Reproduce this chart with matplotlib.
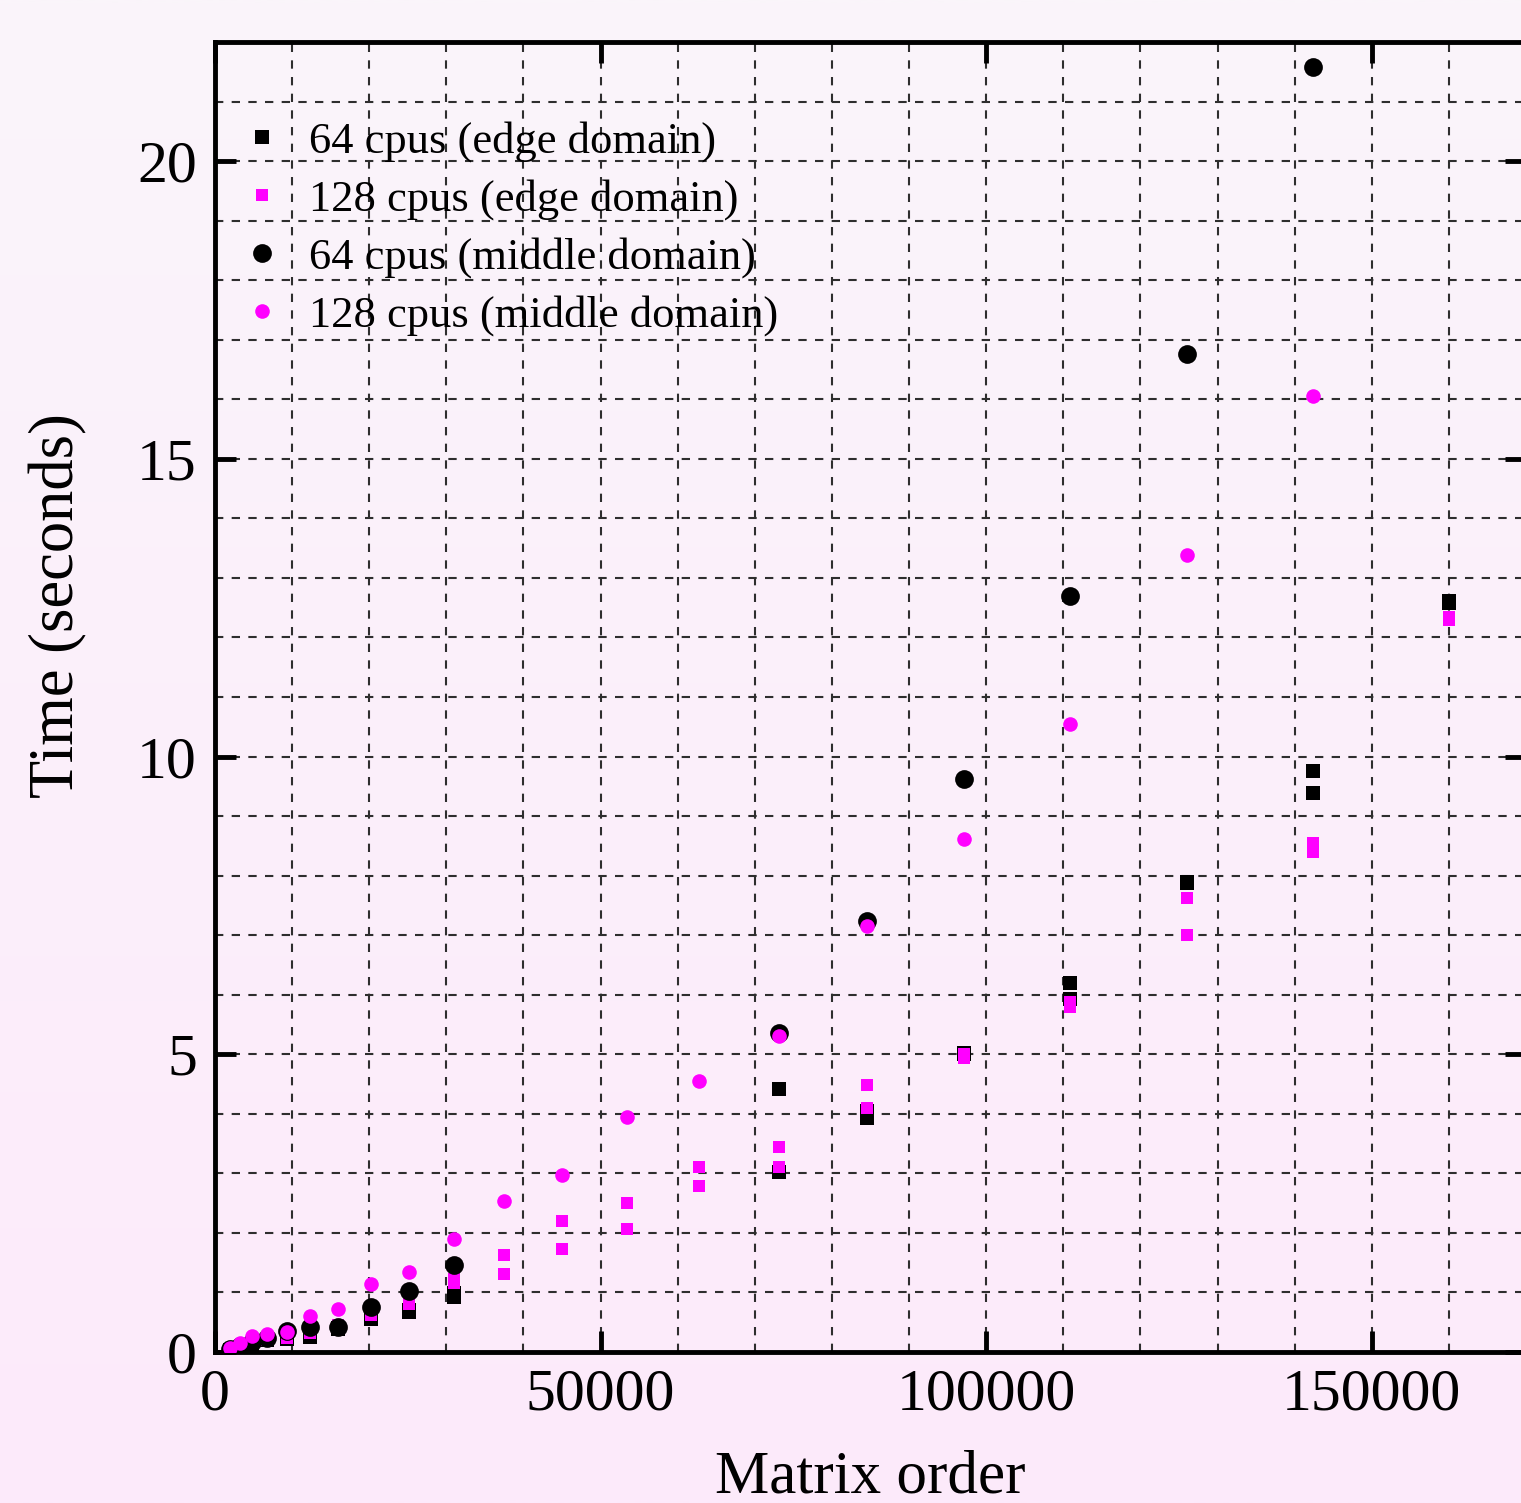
import matplotlib
matplotlib.use('Agg')
import matplotlib.pyplot as plt
import numpy as np
from matplotlib.ticker import MultipleLocator

plt.rcParams['font.family'] = ['Liberation Serif', 'DejaVu Serif']

# matrix orders (x positions shared by all series)
orders = [1950, 3240, 4800, 6750, 9340, 12320, 15950, 20230, 25160, 31000, 37480,
          45000, 53440, 62780, 73150, 84560, 97150, 110900, 126070, 142400, 160050]

nan = np.nan
# edge domain: two measurements per matrix order
edge64_a = [0.03, 0.06, 0.12, 0.20, 0.22, 0.25, 0.38, 0.58, 0.67, 0.92, nan,
            nan, nan, nan, 4.42, 3.93, 5.02, 6.20, 7.90, 9.76, 12.61]
edge64_b = [0.03, 0.06, 0.12, 0.20, 0.22, 0.28, 0.40, 0.55, 0.70, 0.99, nan,
            nan, nan, nan, 3.03, 4.05, 5.00, 5.92, 7.88, 9.39, 12.58]
edge128_a = [0.03, 0.07, 0.13, 0.20, 0.23, 0.32, 0.42, 0.62, 0.82, 1.23, 1.63,
             2.20, 2.50, 3.11, 3.45, 4.49, 5.01, 5.88, 7.63, 8.55, 12.34]
edge128_b = [0.03, 0.07, 0.13, 0.20, 0.26, 0.35, 0.45, 0.66, 0.80, 1.16, 1.31,
             1.73, 2.07, 2.79, 3.11, 4.10, 4.94, 5.80, 7.01, 8.40, 12.30]
# middle domain
mid64 = [0.05, 0.10, 0.17, 0.23, 0.35, 0.42, 0.42, 0.76, 1.03, 1.46, nan,
         nan, nan, nan, 5.36, 7.23, 9.63, 12.69, 16.76, 21.58, nan]
mid128 = [0.06, 0.15, 0.27, 0.30, 0.34, 0.61, 0.72, 1.14, 1.34, 1.90, 2.54,
          2.97, 3.95, 4.55, 5.31, 7.16, 8.62, 10.55, 13.38, 16.05, nan]

labels = ['64 cpus (edge domain)', '128 cpus (edge domain)',
          '64 cpus (middle domain)', '128 cpus (middle domain)']

fig = plt.figure(figsize=(15.21, 15.03), dpi=100)

# soft pink vertical gradient behind everything
bg = fig.add_axes([0, 0, 1, 1], zorder=-10)
top = np.array([250, 245, 250]) / 255
bot = np.array([253, 234, 251]) / 255
t = np.linspace(0, 1, 256)[:, None]
grad = (top * (1 - t) + bot * t)[:, None, :]
bg.imshow(grad, aspect='auto', extent=[0, 1, 0, 1], interpolation='bilinear')
bg.axis('off')

ax = fig.add_axes([215 / 1521, 151 / 1503, 1311 / 1521, 1310 / 1503])
ax.set_facecolor('none')

x = np.array(orders)
ax.plot(np.concatenate([x, x]), np.concatenate([edge64_a, edge64_b]), 's', color='black',
        ms=10.5, mew=0, label=labels[0], zorder=3)
ax.plot(np.concatenate([x, x]), np.concatenate([edge128_a, edge128_b]), 's', color='#ff00ff',
        ms=9, mew=0, label=labels[1], zorder=4)
ax.plot(x, mid64, 'o', color='black', ms=13.5, mew=0, label=labels[2], zorder=5)
ax.plot(x, mid128, 'o', color='#ff00ff', ms=10.5, mew=0, label=labels[3], zorder=6)

ax.set_xlim(0, 170000)
ax.set_ylim(0, 22)
ax.xaxis.set_major_locator(MultipleLocator(50000))
ax.xaxis.set_minor_locator(MultipleLocator(10000))
ax.yaxis.set_major_locator(MultipleLocator(5))
ax.yaxis.set_minor_locator(MultipleLocator(1))

ax.grid(which='both', color='#2e2e2e', linestyle=(0, (4, 4)), linewidth=1.5, zorder=1)
ax.set_axisbelow(True)

for s in ax.spines.values():
    s.set_linewidth(3.5)
ax.tick_params(which='major', direction='in', length=15, width=3.5, top=True, right=True,
               labelsize=43)
ax.tick_params(axis='x', which='major', pad=12)
ax.tick_params(axis='y', which='major', pad=13)
ax.tick_params(which='minor', length=0)

ax.set_xlabel('Matrix order', fontsize=44, labelpad=20)
ax.set_ylabel('Time (seconds)', fontsize=45)
ax.yaxis.set_label_coords(-0.097, 0.57)

ax.legend(loc='upper left', bbox_to_anchor=(0.019, 0.9396), frameon=False, fontsize=32,
          handlelength=1.0, handletextpad=0.55, labelspacing=0.38, borderpad=0,
          borderaxespad=0, numpoints=1)

fig.savefig('out.png', dpi=100)
